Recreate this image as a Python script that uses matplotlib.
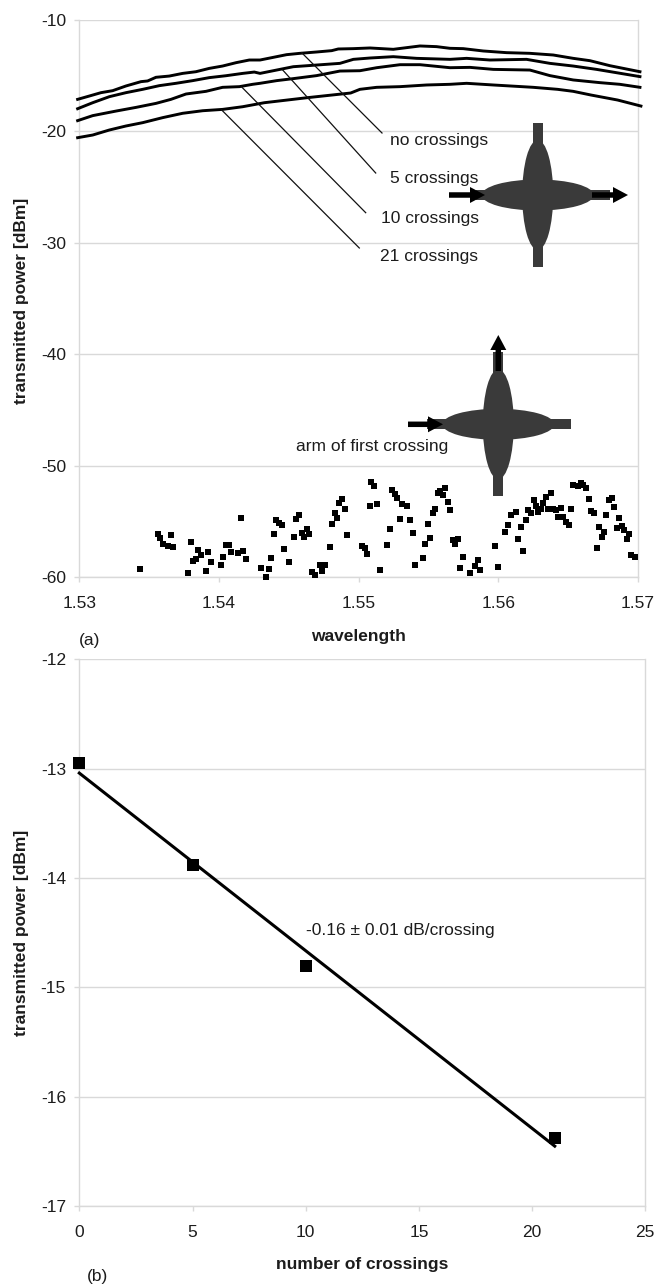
from __future__ import annotations

import matplotlib

matplotlib.use("Agg")

import matplotlib.pyplot as plt
from matplotlib.patches import Ellipse, FancyArrow, Rectangle

# panel (a): transmission curves
no_crossings_x = [1.52988, 1.53072, 1.53155, 1.53239, 1.53334, 1.53442, 1.53489, 1.53549, 1.53644, 1.53740,
                  1.53835, 1.53931, 1.54026, 1.54122, 1.54217, 1.54294, 1.54389, 1.54484, 1.54580, 1.54699,
                  1.54807, 1.54854, 1.54962, 1.55081, 1.55248, 1.55439, 1.55558, 1.55654, 1.55749, 1.55892,
                  1.56059, 1.56226, 1.56393, 1.56536, 1.56656, 1.56799, 1.57014]
no_crossings_y = [-17.12, -16.82, -16.52, -16.34, -15.92, -15.53, -15.47, -15.14, -15.03, -14.79,
                  -14.64, -14.34, -14.13, -13.83, -13.59, -13.59, -13.35, -13.11, -12.99, -12.87,
                  -12.75, -12.60, -12.57, -12.51, -12.63, -12.33, -12.39, -12.54, -12.57, -12.78,
                  -12.93, -12.99, -13.14, -13.44, -13.65, -14.10, -14.64]
five_crossings_x = [1.52988, 1.53096, 1.53215, 1.53334, 1.53454, 1.53573, 1.53692, 1.53812, 1.53931, 1.54050,
                    1.54170, 1.54253, 1.54294, 1.54413, 1.54532, 1.54699, 1.54866, 1.54962, 1.55081, 1.55248,
                    1.55415, 1.55654, 1.55773, 1.55940, 1.56202, 1.56369, 1.56536, 1.56703, 1.56847, 1.57014]
five_crossings_y = [-17.96, -17.42, -16.88, -16.52, -16.22, -15.89, -15.68, -15.44, -15.17, -15.00,
                    -14.79, -14.67, -14.79, -14.49, -14.19, -14.04, -13.89, -13.53, -13.41, -13.29,
                    -13.44, -13.53, -13.44, -13.59, -13.53, -13.89, -14.13, -14.43, -14.73, -15.08]
ten_crossings_x = [1.52988, 1.53096, 1.53263, 1.53406, 1.53549, 1.53656, 1.53764, 1.53907, 1.54026, 1.54146,
                   1.54241, 1.54294, 1.54413, 1.54532, 1.54699, 1.54866, 1.55009, 1.55129, 1.55296, 1.55439,
                   1.55654, 1.55797, 1.55964, 1.56226, 1.56369, 1.56536, 1.56727, 1.56870, 1.57014]
ten_crossings_y = [-19.03, -18.58, -18.17, -17.84, -17.48, -17.12, -16.64, -16.40, -16.04, -15.98,
                   -15.77, -15.68, -15.44, -15.26, -14.99, -14.58, -14.55, -14.28, -14.01, -14.01,
                   -14.28, -14.25, -14.43, -14.49, -14.99, -15.38, -15.62, -15.77, -16.04]
first_crossings_x = [1.52988, 1.53096, 1.53215, 1.53334, 1.53454, 1.53597, 1.53740, 1.53883, 1.54026, 1.54170,
                     1.54325, 1.54632, 1.54943, 1.55009, 1.55129, 1.55296, 1.55487, 1.55654, 1.55773, 1.55964,
                     1.56250, 1.56424, 1.56536, 1.56663, 1.56854, 1.57021]
first_crossings_y = [-20.56, -20.32, -19.87, -19.51, -19.21, -18.76, -18.37, -18.14, -18.02, -17.78,
                     -17.42, -16.97, -16.55, -16.22, -16.04, -15.98, -15.83, -15.77, -15.68, -15.83,
                     -16.04, -16.22, -16.40, -16.73, -17.18, -17.72]

# panel (a): arm of first crossing scatter
arm_x = [1.53437, 1.53564, 1.53580, 1.53602, 1.53633, 1.53671, 1.53655, 1.53798, 1.53781, 1.53853,
         1.53870, 1.53925, 1.53834, 1.53815, 1.53944, 1.53905, 1.54015, 1.54032, 1.54051, 1.54070,
         1.54087, 1.54139, 1.54175, 1.54159, 1.54195, 1.54302, 1.54357, 1.54340, 1.54374, 1.54393,
         1.54410, 1.54429, 1.54448, 1.54465, 1.54500, 1.54536, 1.54555, 1.54574, 1.54591, 1.54610,
         1.54627, 1.54648, 1.54665, 1.54684, 1.54720, 1.54737, 1.54756, 1.54792, 1.54808, 1.54842,
         1.54828, 1.54861, 1.54880, 1.54899, 1.54916, 1.55026, 1.55043, 1.55062, 1.55153, 1.55079,
         1.55134, 1.55205, 1.55224, 1.55296, 1.55241, 1.55260, 1.55277, 1.55313, 1.55349, 1.55368,
         1.55387, 1.55404, 1.55459, 1.55475, 1.55511, 1.55494, 1.55530, 1.55549, 1.55566, 1.55583,
         1.55621, 1.55602, 1.55638, 1.55654, 1.55674, 1.55693, 1.55712, 1.55748, 1.55728, 1.55800,
         1.55836, 1.55853, 1.55872, 1.55979, 1.55998, 1.56051, 1.56070, 1.56089, 1.56125, 1.56161,
         1.56144, 1.56178, 1.56197, 1.56213, 1.56232, 1.56252, 1.56268, 1.56287, 1.56304, 1.56321,
         1.56340, 1.56376, 1.56357, 1.56393, 1.56412, 1.56448, 1.56429, 1.56465, 1.56484, 1.56503,
         1.56519, 1.56536, 1.56572, 1.56591, 1.56608, 1.56629, 1.56648, 1.56665, 1.56684, 1.56703,
         1.56720, 1.56739, 1.56756, 1.56773, 1.56792, 1.56811, 1.56827, 1.56847, 1.56863, 1.56882,
         1.56901, 1.56918, 1.56937, 1.56949, 1.56978, 1.55091, 1.55110]
arm_y = [-59.25, -56.14, -56.44, -57.01, -57.16, -57.31, -56.17, -56.86, -59.61, -57.55,
         -58.03, -57.70, -58.36, -58.50, -58.62, -59.40, -58.86, -58.15, -57.13, -57.10,
         -57.70, -57.82, -57.67, -54.65, -58.36, -59.19, -59.25, -59.94, -58.30, -56.08,
         -54.88, -55.09, -55.33, -57.49, -58.62, -56.35, -54.73, -54.38, -56.02, -56.35,
         -55.66, -56.08, -59.55, -59.76, -58.92, -59.43, -58.86, -57.28, -55.24, -54.68,
         -54.26, -53.33, -52.97, -53.90, -56.20, -57.19, -57.34, -57.94, -59.37, -53.63,
         -53.45, -57.07, -55.66, -54.76, -52.19, -52.55, -52.85, -53.45, -53.57, -54.88,
         -56.02, -58.89, -58.24, -56.98, -56.44, -55.18, -54.23, -53.90, -52.40, -52.25,
         -51.95, -52.64, -53.27, -53.93, -56.62, -56.98, -56.56, -58.18, -59.13, -59.61,
         -59.01, -58.48, -59.31, -57.16, -59.10, -55.93, -55.33, -54.41, -54.17, -55.51,
         -56.56, -57.61, -54.88, -53.93, -54.26, -53.09, -53.63, -54.17, -53.84, -53.36,
         -52.82, -52.46, -53.84, -53.87, -53.99, -53.75, -54.62, -54.59, -55.06, -55.33,
         -53.90, -51.71, -51.83, -51.53, -51.68, -52.01, -52.94, -54.05, -54.23, -57.40,
         -55.45, -56.38, -55.96, -54.44, -53.09, -52.85, -53.72, -55.54, -54.71, -55.36,
         -55.78, -56.56, -56.14, -58.03, -58.15, -51.47, -51.77]

wavelength_ticks = [1.53, 1.54, 1.55, 1.56, 1.57]
power_ticks_a = [-60, -50, -40, -30, -20, -10]

# panel (b)
crossings = [0, 5, 10, 21]
peak_power = [-12.95, -13.88, -14.80, -16.38]
fit_crossings = [0, 21]
fit_power = [-13.04, -16.45]
crossing_ticks = [0, 5, 10, 15, 20, 25]
power_ticks_b = [-17, -16, -15, -14, -13, -12]

WIDTH, HEIGHT = 657, 1285
GREY = "#d9d9d9"
INK = "#1c1c1c"
ICON = "#3a3a3a"
FONT = 12.5


def add_panel(figure, left, right, top, bottom):
    return figure.add_axes(
        [left / WIDTH, 1 - bottom / HEIGHT, (right - left) / WIDTH, (bottom - top) / HEIGHT]
    )


def style_axis(axis, x_ticks, y_ticks, x_format):
    axis.set_xlim(x_ticks[0], x_ticks[-1])
    axis.set_ylim(y_ticks[0], y_ticks[-1])
    axis.set_xticks(x_ticks)
    axis.set_xticklabels([x_format.format(tick) for tick in x_ticks])
    axis.set_yticks(y_ticks)
    axis.grid(axis="y", color=GREY, linewidth=1.0)
    axis.set_axisbelow(True)
    axis.spines["top"].set_visible(False)
    for side in ["left", "right", "bottom"]:
        axis.spines[side].set_color(GREY)
        axis.spines[side].set_linewidth(1.0)
    axis.tick_params(axis="x", color=GREY, length=3.6, width=1.0, pad=10, labelsize=FONT, labelcolor=INK)
    axis.tick_params(axis="y", color=GREY, length=3.6, width=1.0, pad=6, labelsize=FONT, labelcolor=INK)


def draw_crossing(overlay, cx, cy, h_span, v_span):
    overlay.add_patch(Rectangle((h_span[0], cy - 5), h_span[1] - h_span[0], 10, color=ICON, lw=0))
    overlay.add_patch(Rectangle((cx - 5, v_span[0]), 10, v_span[1] - v_span[0], color=ICON, lw=0))
    overlay.add_patch(Ellipse((cx, cy), 112, 31, color=ICON, lw=0))
    overlay.add_patch(Ellipse((cx, cy), 31, 110, color=ICON, lw=0))


def draw_arrow(overlay, x0, y0, x1, y1):
    overlay.add_patch(
        FancyArrow(x0, y0, x1 - x0, y1 - y0, width=5.5, head_width=16, head_length=15,
                   length_includes_head=True, color="black", lw=0)
    )


plt.rcParams.update(
    {
        "font.family": ["Liberation Sans", "DejaVu Sans"],
        "axes.unicode_minus": False,
    }
)

figure = plt.figure(figsize=(WIDTH / 100, HEIGHT / 100), dpi=100)
figure.patch.set_facecolor("white")

axis_a = add_panel(figure, 79.3, 638, 20, 577.3)
style_axis(axis_a, wavelength_ticks, power_ticks_a, "{:.2f}")
for xs, ys in [
    (no_crossings_x, no_crossings_y),
    (five_crossings_x, five_crossings_y),
    (ten_crossings_x, ten_crossings_y),
    (first_crossings_x, first_crossings_y),
]:
    axis_a.plot(xs, ys, color="black", linewidth=2.1, clip_on=False, zorder=4)
axis_a.plot(arm_x, arm_y, linestyle="none", marker="s", markersize=4.1, color="black",
            markeredgewidth=0, clip_on=False, zorder=4)

axis_b = add_panel(figure, 79.3, 645.3, 659.3, 1206.3)
style_axis(axis_b, crossing_ticks, power_ticks_b, "{:d}")
axis_b.plot(fit_crossings, fit_power, color="black", linewidth=2.2, clip_on=False, zorder=4)
axis_b.plot(crossings, peak_power, linestyle="none", marker="s", markersize=8.2, color="black",
            markeredgewidth=0, clip_on=False, zorder=5)

# everything below is placed in picture pixels
overlay = figure.add_axes([0, 0, 1, 1], zorder=10)
overlay.set_xlim(0, WIDTH)
overlay.set_ylim(HEIGHT, 0)
overlay.axis("off")

for start, end in [
    ((301.7, 52.7), (382, 133)),
    ((282.7, 70), (375.7, 173)),
    ((241.7, 87), (365.7, 212.7)),
    ((221.7, 110), (359.3, 248)),
]:
    overlay.plot([start[0], end[0]], [start[1], end[1]], color="#111111", linewidth=0.9)

draw_crossing(overlay, 537.7, 195, (476, 610), (123, 267))
draw_arrow(overlay, 449, 195, 485, 195)
draw_arrow(overlay, 592, 195, 628, 195)

draw_crossing(overlay, 498.3, 424.3, (427, 570.7), (352, 496))
draw_arrow(overlay, 408, 424.3, 443, 424.3)
draw_arrow(overlay, 498.3, 371, 498.3, 335)

for x, y, label in [
    (390, 140, "no crossings"),
    (390, 178, "5 crossings"),
    (381, 218, "10 crossings"),
    (380, 257, "21 crossings"),
    (296.5, 447, "arm of first crossing"),
    (306, 931, "-0.16 \u00b1 0.01 dB/crossing"),
    (79, 640, "(a)"),
    (87, 1277, "(b)"),
]:
    overlay.text(x, y, label, fontsize=FONT, color=INK, ha="left", va="center")

overlay.text(358, 636, "wavelength", fontsize=FONT, fontweight="bold", color=INK, ha="center", va="center")
overlay.text(362, 1264, "number of crossings", fontsize=FONT, fontweight="bold", color=INK, ha="center", va="center")
overlay.text(22, 301, "transmitted power [dBm]", fontsize=FONT, fontweight="bold", color=INK,
             rotation=90, ha="center", va="center")
overlay.text(22, 933, "transmitted power [dBm]", fontsize=FONT, fontweight="bold", color=INK,
             rotation=90, ha="center", va="center")

figure.savefig("out.png", dpi=100)
plt.close(figure)
